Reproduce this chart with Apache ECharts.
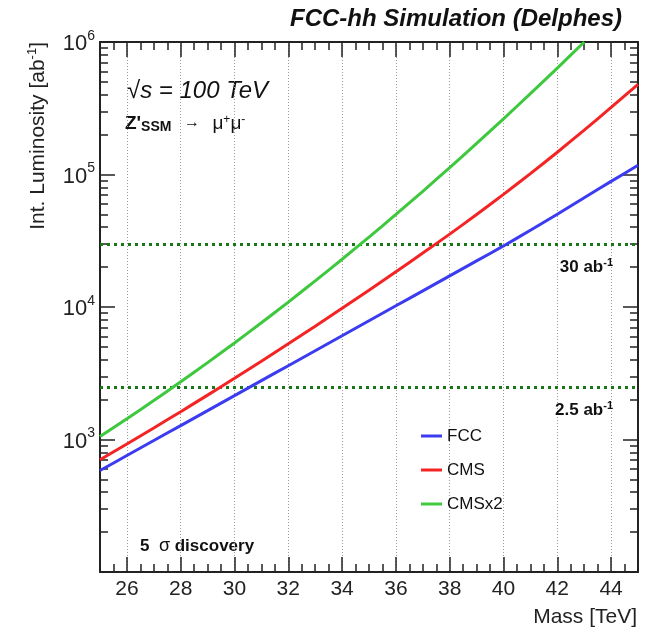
<!DOCTYPE html>
<html>
<head>
<meta charset="utf-8">
<script src="https://cdn.jsdelivr.net/npm/echarts@6/dist/echarts.min.js"></script>
<style>
html,body{margin:0;padding:0;background:#fff;}
#chart{width:665px;height:629px;}
</style>
</head>
<body>
<div id="chart"></div>
<script>
// ---- data ----
const masses = [25,26,27,28,29,30,31,32,33,34,35,36,37,38,39,40,41,42,43,44,45];
const fccLumi = [583,757,982,1274,1652,2143,2780,3606,4677,6067,7870,10210,13240,17180,22280,28900,38000,50100,66800,88700,117500];
const cmsLumi = [703,925,1222,1622,2163,2897,3899,5272,7161,9772,13400,18450,25530,35480,49890,70790,101600,147200,216300,320600,479700];
const cmsx2Lumi = [1054,1435,1969,2724,3803,5355,7603,10890,15740,22930,33700,49950,74710,112700,171500,263200,407300,635600,1000000];
const seriesNames = ['FCC','CMS','CMSx2'];
const thresholds = [30000, 2500];
const thresholdLabels = ['30', '2.5'];
const xMajorTicks = [26,28,30,32,34,36,38,40,42,44];

const FONT = '"Liberation Sans", Arial, Helvetica, sans-serif';
const AX = '#222';

// minor log tick positions (in log10 space) for the overlay tick axes
const yMinorTicks = [];
for (let d = 2; d < 6; d++) { for (let k = 2; k <= 9; k++) { yMinorTicks.push(Math.log10(k * Math.pow(10, d))); } }

function pairs(vals) { return vals.map((v, i) => [masses[i], v]); }

const chart = echarts.init(document.getElementById('chart'), null, {renderer: 'canvas'});

const majorX = (pos, labels) => ({
  type: 'value', position: pos, min: 25, max: 45, interval: 0.5,
  axisLine: {show: true, onZero: false, lineStyle: {color: AX, width: 2}},
  axisTick: {show: true, inside: true, length: 15, customValues: xMajorTicks, lineStyle: {color: AX, width: 1.5}},
  axisLabel: labels ? {show: true, customValues: xMajorTicks, fontSize: 21, color: AX, fontFamily: FONT, margin: 7} : {show: false},
  splitLine: labels ? {show: true, lineStyle: {color: '#9a9a9a', width: 1, type: [1, 2]}} : {show: false}
});
const minorX = (pos) => ({
  type: 'value', position: pos, min: 25, max: 45, interval: 0.5,
  axisLine: {show: false, onZero: false},
  axisTick: {show: true, inside: true, length: 8, lineStyle: {color: AX, width: 1.5}},
  axisLabel: {show: false}, splitLine: {show: false}
});
const majorY = (pos, labels) => ({
  type: 'log', logBase: 10, position: pos, min: 100, max: 1000000,
  axisLine: {show: true, onZero: false, lineStyle: {color: AX, width: 2}},
  axisTick: {show: true, inside: true, length: 15, lineStyle: {color: AX, width: 1.5}},
  axisLabel: labels ? {
    show: true, margin: 5,
    formatter: function (v) {
      const e = Math.round(Math.log10(v));
      if (e === 2) return '';
      return '{b|10}{s|' + e + '}';
    },
    rich: {
      b: {fontSize: 22, fontFamily: FONT, color: AX, lineHeight: 26, verticalAlign: 'bottom'},
      s: {fontSize: 14, fontFamily: FONT, color: AX, verticalAlign: 'top', lineHeight: 14}
    }
  } : {show: false},
  splitLine: {show: false}
});
const minorY = (pos) => ({
  type: 'value', position: pos, min: 2, max: 6, interval: 1,
  axisLine: {show: false, onZero: false},
  axisTick: {show: true, inside: true, length: 8, customValues: yMinorTicks, lineStyle: {color: AX, width: 1.5}},
  axisLabel: {show: false}, splitLine: {show: false}
});

const colors = ['#3b3bf2', '#f42424', '#3ec83e'];
const dataSets = [fccLumi, cmsLumi, cmsx2Lumi];

const series = dataSets.map((vals, i) => ({
  name: seriesNames[i], type: 'line', xAxisIndex: 0, yAxisIndex: 0,
  data: pairs(vals), showSymbol: false, smooth: 0.2, clip: true,
  lineStyle: {color: colors[i], width: 3}, itemStyle: {color: colors[i]},
  z: 5
}));

series[0].markLine = {
  silent: true, symbol: ['none', 'none'], animation: false,
  lineStyle: {color: '#187818', width: 3, type: [3, 4]},
  label: {
    show: true, position: 'insideEndBottom', distance: [25, 14],
    formatter: function (p) { return '{t|' + thresholdLabels[p.dataIndex] + ' ab}{s|-1}'; },
    rich: {
      t: {fontSize: 17, fontWeight: 'bold', fontFamily: FONT, color: '#111', lineHeight: 20},
      s: {fontSize: 11, fontWeight: 'bold', fontFamily: FONT, color: '#111', verticalAlign: 'top', lineHeight: 11}
    }
  },
  data: thresholds.map(v => ({yAxis: v}))
};

const option = {
  animation: false,
  backgroundColor: '#fff',
  grid: {left: 100, right: 27, top: 42, bottom: 57, containLabel: false},
  xAxis: [majorX('bottom', true), minorX('bottom'), majorX('top', false), minorX('top')],
  yAxis: [majorY('left', true), minorY('left'), majorY('right', false), minorY('right')],
  legend: {
    data: seriesNames, orient: 'vertical', left: 421, top: 426, padding: 0,
    icon: 'rect', itemWidth: 21, itemHeight: 3, itemGap: 14,
    textStyle: {fontSize: 17, fontFamily: FONT, color: '#111', lineHeight: 20}
  },
  graphic: [
    {type: 'text', x: 622, y: 19, style: {text: 'FCC-hh Simulation (Delphes)', font: 'italic bold 24px ' + FONT, fill: '#111', textAlign: 'right', textVerticalAlign: 'middle'}},
    {type: 'text', x: 38, y: 42, rotation: Math.PI / 2, style: {
      text: '{t|Int. Luminosity [ab}{s|-1}{t|]}', textAlign: 'right', textVerticalAlign: 'middle',
      rich: {t: {fontSize: 21, fontFamily: FONT, fill: AX, lineHeight: 24}, s: {fontSize: 13, fontFamily: FONT, fill: AX, verticalAlign: 'top', lineHeight: 13}}
    }},
    {type: 'text', x: 637, y: 617, style: {text: 'Mass [TeV]', font: '21px ' + FONT, fill: AX, textAlign: 'right', textVerticalAlign: 'middle'}},
    {type: 'text', x: 127, y: 91, style: {text: '√s = 100 TeV', font: 'italic 24px ' + FONT, fill: '#111', textAlign: 'left', textVerticalAlign: 'middle'}},
    {type: 'text', x: 125, y: 124, style: {
      text: "{z|Z'}{b|SSM}{a|   →   }{m|μ}{p|+}{m|μ}{p|-}", textAlign: 'left', textVerticalAlign: 'middle',
      rich: {
        z: {fontSize: 19, fontWeight: 'bold', fontFamily: FONT, fill: '#111', verticalAlign: 'top', lineHeight: 20},
        b: {fontSize: 14, fontWeight: 'bold', fontFamily: FONT, fill: '#111', verticalAlign: 'bottom', lineHeight: 14, padding: [14, 0, 0, 0]},
        a: {fontSize: 16, fontFamily: '"Noto Sans", sans-serif', fill: '#111', verticalAlign: 'top', lineHeight: 20},
        m: {fontSize: 19, fontFamily: FONT, fill: '#111', verticalAlign: 'top', lineHeight: 20},
        p: {fontSize: 12, fontFamily: FONT, fill: '#111', verticalAlign: 'top', lineHeight: 12}
      }
    }},
    {type: 'text', x: 140, y: 546, style: {
      text: '{b|5  }{g|σ}{b| discovery}', textAlign: 'left', textVerticalAlign: 'middle',
      rich: {
        b: {fontSize: 17, fontWeight: 'bold', fontFamily: FONT, fill: '#111'},
        g: {fontSize: 18, fontFamily: FONT, fill: '#111'}
      }
    }}
  ],
  series: series
};
chart.setOption(option);
</script>
</body>
</html>
